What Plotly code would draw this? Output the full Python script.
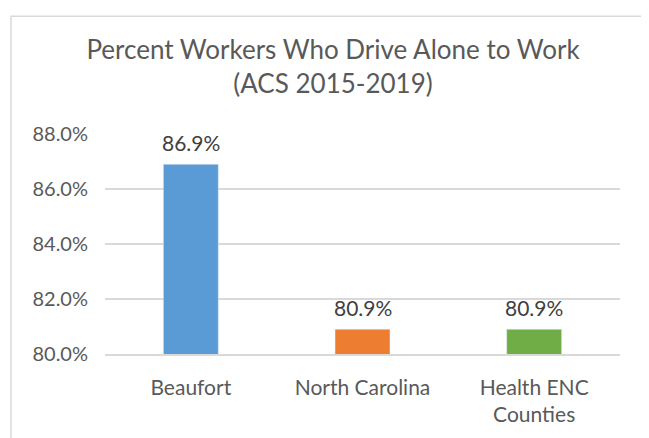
import plotly.graph_objects as go

categories = ["Beaufort", "North Carolina", "Health ENC<br>Counties"]
values = [86.9, 80.9, 80.9]
colors = ["#5B9BD5", "#ED7D31", "#70AD47"]
y_ticks = [80, 82, 84, 86, 88]

FONT = "Lato"
GRAY = "#595959"

# page body has an 8px margin; compensate so the picture lines up
OFF = 8
W, H = 649 - OFF, 438 - OFF
L, R, T, B = 105 - OFF, 29, 134 - OFF, 84 - OFF
pw, ph = W - L - R, H - T - B

def px_x(x):
    return (x - OFF - L) / pw

def px_y(y):
    return (H - B - (y - OFF)) / ph

fig = go.Figure(go.Bar(
    x=categories, y=values, marker_color=colors,
    cliponaxis=False, width=0.32,
))

for c, v in zip(categories, values):
    fig.add_annotation(
        x=c, y=v, text=f"{v:.1f}%", showarrow=False,
        yanchor="middle", yshift=22,
        font=dict(family=FONT, size=21, color="#404040"),
    )

fig.update_layout(
    width=W, height=H,
    margin=dict(l=L, r=R, t=T, b=B),
    paper_bgcolor="white", plot_bgcolor="white",
    showlegend=False,
    title=dict(
        text="Percent Workers Who Drive Alone to Work<br>(ACS 2015-2019)",
        x=(333 - OFF) / W, xanchor="center", y=1 - (59 - OFF) / H, yanchor="middle",
        font=dict(family=FONT, size=26, color=GRAY),
    ),
    xaxis=dict(
        showline=True, linecolor="#D9D9D9", linewidth=1.5,
        tickfont=dict(family=FONT, size=21, color=GRAY),
        ticks="outside", ticklen=14, tickcolor="rgba(0,0,0,0)",
        showgrid=False,
    ),
    yaxis=dict(
        range=[80, 88], tickvals=y_ticks,
        ticktext=[f"{v:.1f}%" for v in y_ticks],
        showgrid=True, gridcolor="#D9D9D9", gridwidth=1.5,
        zeroline=False, showline=False,
        tickfont=dict(family=FONT, size=20, color=GRAY),
        ticks="outside", ticklen=12, tickcolor="rgba(0,0,0,0)",
    ),
    shapes=[dict(
        type="rect", xref="paper", yref="paper",
        x0=px_x(11), x1=px_x(643), y0=px_y(460), y1=px_y(12),
        line=dict(color="#D9D9D9", width=1.5), layer="below",
    )],
)

fig.write_html("out.html")
